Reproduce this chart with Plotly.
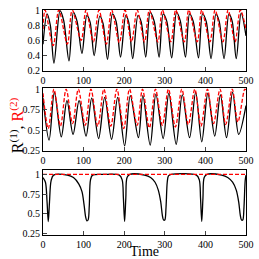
import plotly.graph_objects as go
from plotly.subplots import make_subplots

# ---------- data ----------
# Panel 1 : R(1) black, R(2) red
p1_black_t = [0, 10, 18, 27, 42, 51, 64, 75, 84, 96, 108, 116, 126, 140, 148, 159,
              171, 180, 191, 204, 211, 221, 234, 242, 253, 264, 274, 286, 296, 305,
              317, 329, 338, 351, 361, 370, 383, 393, 402, 414, 426, 434, 446, 458,
              466, 476, 488, 500]
p1_black_v = [0.55, 0.95, 0.80, 0.30, 0.99, 0.86, 0.33, 0.97, 0.85, 0.43, 0.93, 0.84, 0.40,
              0.92, 0.82, 0.35, 0.95, 0.85, 0.38, 0.93, 0.84, 0.36, 0.93, 0.84, 0.38,
              0.97, 0.85, 0.38, 0.95, 0.85, 0.37, 0.97, 0.86, 0.38, 0.95, 0.85, 0.37,
              0.95, 0.85, 0.36, 0.95, 0.85, 0.36, 0.95, 0.85, 0.36, 0.96, 0.66]
p1_red_t = [0, 5, 25, 39, 60, 72, 94, 106, 124, 138, 156, 169, 188, 202, 218, 232,
            250, 262, 283, 294, 315, 327, 348, 359, 380, 391, 411, 424, 443, 456,
            473, 486, 500]
p1_red_v = [0.75, 1.0, 0.53, 1.0, 0.55, 1.0, 0.60, 1.0, 0.58, 1.0, 0.55, 1.0, 0.57, 1.0,
            0.58, 1.0, 0.58, 1.0, 0.58, 1.0, 0.58, 1.0, 0.58, 1.0, 0.58, 1.0, 0.58,
            1.0, 0.58, 1.0, 0.58, 1.0, 0.75]

# Panel 2
p2_black_t = [0, 15, 28, 45, 59, 74, 89, 106, 120, 137, 152, 169, 184, 201, 215,
              235, 246, 264, 278, 296, 310, 328, 343, 361, 376, 391, 406, 423, 437,
              452, 467, 482, 500]
p2_black_v = [0.89, 0.38, 0.96, 0.42, 0.86, 0.45, 0.86, 0.43, 0.89, 0.40, 0.90, 0.39,
              0.90, 0.31, 0.92, 0.41, 0.92, 0.32, 0.94, 0.40, 0.95, 0.33, 0.93, 0.41,
              0.96, 0.36, 0.95, 0.43, 0.93, 0.41, 0.96, 0.45, 0.80]
p2_red_t = [0, 13, 27, 43, 57, 73, 87, 104, 118, 135, 150, 167, 182, 199, 213, 232,
            245, 262, 277, 294, 309, 326, 342, 358, 374, 389, 405, 420, 436, 450,
            466, 480, 497, 500]
p2_red_v = [0.95, 0.52, 1.0, 0.55, 1.0, 0.58, 1.0, 0.56, 1.0, 0.55, 1.0, 0.55, 1.0,
            0.52, 1.0, 0.56, 1.0, 0.53, 1.0, 0.56, 1.0, 0.54, 1.0, 0.57, 1.0, 0.55,
            1.0, 0.58, 1.0, 0.57, 1.0, 0.60, 1.0, 0.99]

# Panel 3
p3_black_t = [0, 6, 10, 13, 16, 20, 26, 60, 75, 88, 96, 101, 105, 108, 111, 114, 117,
              122, 150, 188, 195, 198, 201, 204, 207, 214, 250, 265, 276, 284, 290,
              294, 297, 300, 303, 306, 309, 316, 378, 385, 388, 391, 394, 397, 404,
              440, 455, 467, 476, 482, 486, 489, 492, 495, 498, 500]
p3_black_v = [0.96, 0.90, 0.65, 0.40, 0.65, 0.92, 0.99, 0.99, 0.96, 0.88, 0.78, 0.62,
              0.46, 0.41, 0.42, 0.60, 0.93, 0.99, 1.0, 0.99, 0.93, 0.70, 0.40, 0.70,
              0.96, 1.0, 0.99, 0.96, 0.90, 0.80, 0.65, 0.48, 0.42, 0.42, 0.58, 0.90,
              0.98, 1.0, 0.99, 0.93, 0.70, 0.40, 0.70, 0.96, 1.0, 0.99, 0.96, 0.90,
              0.80, 0.65, 0.48, 0.42, 0.42, 0.58, 0.92, 0.99]
p3_red_t = [0, 500]
p3_red_v = [1.0, 1.0]

x_ticks = [0, 100, 200, 300, 400, 500]
p1_yticks = [0.2, 0.4, 0.6, 0.8, 1]
p1_ytext = ["0.2", "0.4", "0.6", "0.8", "1"]
p23_yticks = [0.25, 0.5, 0.75, 1]
p23_ytext = ["0.25", "0.5", "0.75", "1"]

# ---------- figure ----------
FONT = "Liberation Serif"
fig = make_subplots(rows=3, cols=1)

panels = [
    (p1_black_t, p1_black_v, p1_red_t, p1_red_v),
    (p2_black_t, p2_black_v, p2_red_t, p2_red_v),
    (p3_black_t, p3_black_v, p3_red_t, p3_red_v),
]
for i, (bt, bv, rt, rv) in enumerate(panels, start=1):
    fig.add_trace(go.Scatter(x=bt, y=bv, mode="lines",
                             line=dict(color="black", width=1.3, shape="spline", smoothing=0.9),
                             showlegend=False), row=i, col=1)
    fig.add_trace(go.Scatter(x=rt, y=rv, mode="lines",
                             line=dict(color="#ff0000", width=1.3, dash="4px,2px",
                                       shape="spline", smoothing=0.9),
                             showlegend=False), row=i, col=1)

domains = [[0.730, 1.0], [0.374, 0.652], [0.0, 0.287]]
yranges = [[0.2, 1.0], [0.25, 1.01], [0.23, 1.05]]
for i in range(3):
    xa = "xaxis" if i == 0 else f"xaxis{i+1}"
    ya = "yaxis" if i == 0 else f"yaxis{i+1}"
    fig.layout[xa].update(range=[0, 500], tickvals=x_ticks, ticks="inside", ticklen=4,
                          showline=True, linecolor="black", linewidth=1, mirror=True,
                          showgrid=False, zeroline=False,
                          tickfont=dict(family=FONT, size=10, color="black"))
    if i == 0:
        tv, tt = p1_yticks, p1_ytext
    else:
        tv, tt = p23_yticks, p23_ytext
    fig.layout[ya].update(range=yranges[i], domain=domains[i], tickvals=tv, ticktext=tt,
                          ticks="inside", ticklen=4, showline=True, linecolor="black",
                          linewidth=1, mirror=True, showgrid=False, zeroline=False,
                          tickfont=dict(family=FONT, size=10, color="black"))

fig.add_annotation(text="R<sup>(1)</sup>, <span style='color:#ff0000'>R<sup>(2)</sup></span>",
                   xref="paper", yref="paper", x=-0.19, y=0.49, textangle=-90,
                   showarrow=False, font=dict(family=FONT, size=16, color="black"))
fig.add_annotation(text="Time", xref="paper", yref="paper", x=0.5, y=-0.03,
                   yanchor="top", showarrow=False,
                   font=dict(family=FONT, size=14, color="black"))

fig.update_layout(width=259, height=259, margin=dict(l=43, r=10, t=5, b=24),
                  plot_bgcolor="white", paper_bgcolor="white")
fig.write_html("out.html", config={"displayModeBar": False},
               post_script="document.body.style.margin='0';document.body.style.overflow='hidden';")
